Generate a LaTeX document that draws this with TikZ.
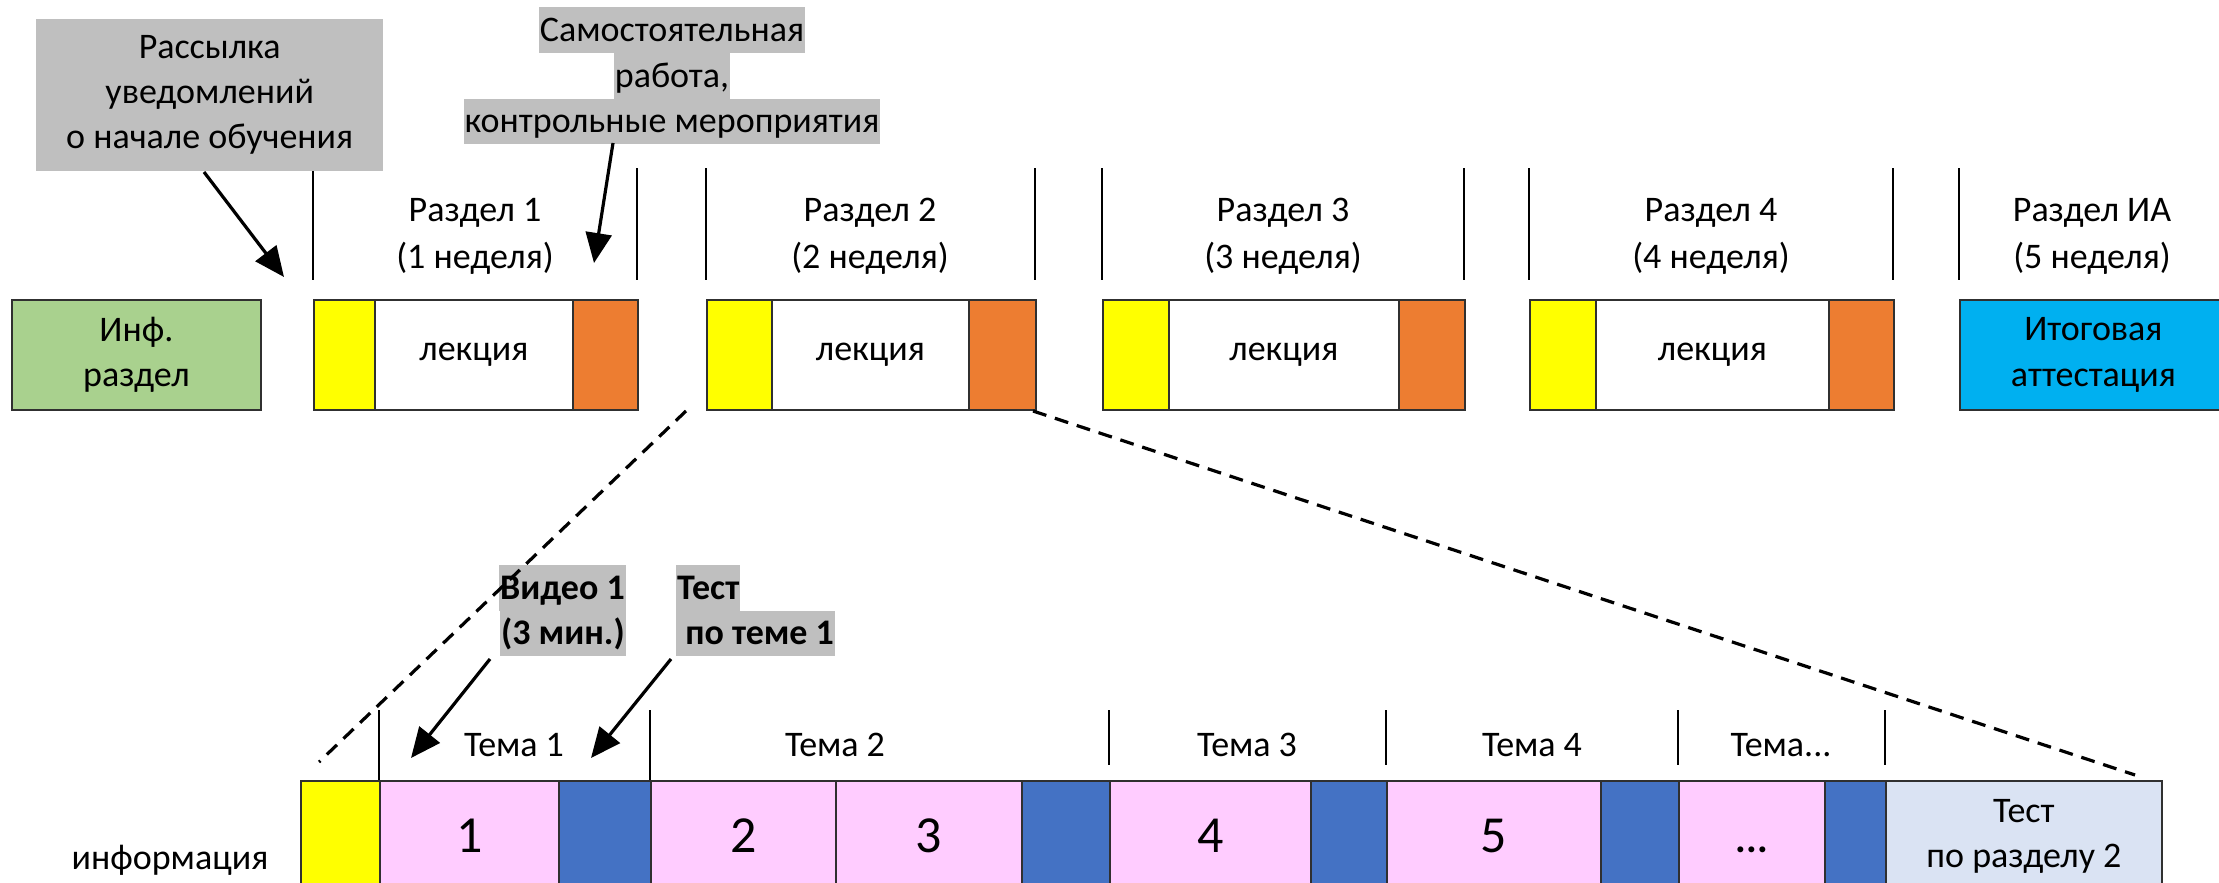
\documentclass[tikz,border=0pt]{standalone}
\usepackage{fontspec}
\setmainfont{Carlito}
\usetikzlibrary{arrows.meta,calc}

\definecolor{infgreen}{HTML}{A9D18E}
\definecolor{startyellow}{HTML}{FFFF00}
\definecolor{ctrlorange}{HTML}{ED7D31}
\definecolor{finalcyan}{HTML}{00B0F0}
\definecolor{quizblue}{HTML}{4472C4}
\definecolor{videopink}{HTML}{FFCCFF}
\definecolor{testblue}{HTML}{DAE3F3}
\definecolor{hlgray}{HTML}{BFBFBF}
\definecolor{edge}{HTML}{303030}

\begin{document}
\begin{tikzpicture}[x=1pt,y=-1pt,
  cell/.style={draw=edge, line width=1.8pt, anchor=north west, inner sep=0pt,
    minimum height=110pt, align=center, font=\fontsize{36}{45}\selectfont},
  bignum/.style={font=\fontsize{52}{60}\selectfont},
  caption/.style={align=center, inner sep=0pt, font=\fontsize{36}{47}\selectfont},
  tick/.style={line width=1.6pt, black},
  ptr/.style={line width=3.2pt, -{Triangle[length=30pt,width=26pt]}},
  zoomline/.style={line width=3.2pt, dash pattern=on 14pt off 9pt},
  hl/.style={fill=hlgray, inner xsep=1pt, inner ysep=0pt, text height=34pt,
    text depth=11.5pt, font=\fontsize{36}{45}\selectfont},
  hlb/.style={hl, font=\fontsize{36}{45}\selectfont\bfseries}
]
\useasboundingbox (0,0) rectangle (2219,883);
\clip (0,0) rectangle (2219,883);

% ---------- top row: course sections ----------
\node[cell, fill=infgreen, minimum width=249pt] (inf) at (11,299) {Инф.\\раздел};

\node[cell, fill=startyellow, minimum width=61pt]  (s1y) at (313,299) {};
\node[cell, fill=white,       minimum width=198pt] (s1l) at (374,299) {лекция};
\node[cell, fill=ctrlorange,  minimum width=65pt]  (s1o) at (572,299) {};

\node[cell, fill=startyellow, minimum width=65pt]  (s2y) at (706,299) {};
\node[cell, fill=white,       minimum width=197pt] (s2l) at (771,299) {лекция};
\node[cell, fill=ctrlorange,  minimum width=67pt]  (s2o) at (968,299) {};

\node[cell, fill=startyellow, minimum width=66pt]  (s3y) at (1102,299) {};
\node[cell, fill=white,       minimum width=230pt] (s3l) at (1168,299) {лекция};
\node[cell, fill=ctrlorange,  minimum width=66pt]  (s3o) at (1398,299) {};

\node[cell, fill=startyellow, minimum width=66pt]  (s4y) at (1529,299) {};
\node[cell, fill=white,       minimum width=233pt] (s4l) at (1595,299) {лекция};
\node[cell, fill=ctrlorange,  minimum width=65pt]  (s4o) at (1828,299) {};

\node[cell, fill=finalcyan, minimum width=267pt] (ia) at (1959,299) {Итоговая\\аттестация};

% section boundaries
\foreach \xx in {313,637,706,1035,1102,1464,1529,1893,1959}
  \draw[tick] (\xx,168) -- (\xx,280);

\node[caption] (h1) at (475,236.5)  {Раздел 1\\(1 неделя)};
\node[caption] (h2) at (870,236.5)  {Раздел 2\\(2 неделя)};
\node[caption] (h3) at (1283,236.5) {Раздел 3\\(3 неделя)};
\node[caption] (h4) at (1711,236.5) {Раздел 4\\(4 неделя)};
\node[caption] (h5) at (2092,236.5) {Раздел ИА\\(5 неделя)};

% ---------- callouts above the top row ----------
\node[fill=hlgray, anchor=north west, inner sep=0pt, minimum width=347pt,
      minimum height=152pt, align=center, font=\fontsize{36}{45}\selectfont]
      (mail) at (36,19) {Рассылка\\уведомлений\\о начале обучения};

\node[hl, anchor=north] (sw1) at (672,7.3)  {Самостоятельная};
\node[hl, anchor=north] (sw2) at (672,52.8) {работа,};
\node[hl, anchor=north] (sw3) at (672,98.3) {контрольные мероприятия};

\coordinate (a1s) at (204,172);
\coordinate (a1e) at (284,277);
\coordinate (a2s) at (613,143);
\coordinate (a2e) at (594,263);
\draw[ptr] (a1s) -- (a1e);
\draw[ptr] (a2s) -- (a2e);

% ---------- bottom row: topics of section 2 ----------
\node[cell, fill=startyellow, minimum width=79pt]  (by) at (300,780) {};
\node[cell, fill=videopink,   minimum width=179pt, bignum] (v1) at (379,780) {1};
\node[cell, fill=quizblue,    minimum width=92pt]  (q1) at (558,780) {};
\node[cell, fill=videopink,   minimum width=185pt, bignum] (v2) at (650,780) {2};
\node[cell, fill=videopink,   minimum width=186pt, bignum] (v3) at (835,780) {3};
\node[cell, fill=quizblue,    minimum width=88pt]  (q2) at (1021,780) {};
\node[cell, fill=videopink,   minimum width=201pt, bignum] (v4) at (1109,780) {4};
\node[cell, fill=quizblue,    minimum width=76pt]  (q3) at (1310,780) {};
\node[cell, fill=videopink,   minimum width=214pt, bignum] (v5) at (1386,780) {5};
\node[cell, fill=quizblue,    minimum width=78pt]  (q4) at (1600,780) {};
\node[cell, fill=videopink,   minimum width=146pt, bignum] (v6) at (1678,780)
  {\vphantom{1}{\fontsize{40}{48}\selectfont\textbf{...}}};
\node[cell, fill=quizblue,    minimum width=61pt]  (q5) at (1824,780) {};
\node[cell, fill=testblue,    minimum width=276pt] (fin) at (1885,780) {Тест\\по разделу 2};

\draw[tick] (379,710) -- (379,780);
\draw[tick] (650,710) -- (650,780);
\foreach \xx in {1109,1386,1678,1885}
  \draw[tick] (\xx,710) -- (\xx,765);

\node[caption] (t1) at (514,745)  {Тема 1};
\node[caption] (t2) at (835,745)  {Тема 2};
\node[caption] (t3) at (1247,745) {Тема 3};
\node[caption] (t4) at (1532,745) {Тема 4};
\node[caption] (t5) at (1781,745) {Тема...};

\node[caption] (info) at (170,860) {информация};

% callouts above the bottom row
\node[hlb, anchor=north east] (vid1) at (626,565)   {Видео 1};
\node[hlb, anchor=north east] (vid2) at (626,610.5) {(3 мин.)};
\node[hlb, anchor=north west] (tst1) at (676,565)   {Тест};
\node[hlb, anchor=north west] (tst2) at (676,610.5) {\ по теме 1};

\coordinate (a3s) at (490,659);
\coordinate (a3e) at (411,758);
\coordinate (a4s) at (671,659);
\coordinate (a4e) at (591,758);
\draw[ptr] (a3s) -- (a3e);
\draw[ptr] (a4s) -- (a4e);

% ---------- zoom lines from section 2 to its topics ----------
\coordinate (z1s) at (686,411);
\coordinate (z1e) at (319,762);
\coordinate (z2s) at (1033,411);
\coordinate (z2e) at (2135,775);
\draw[zoomline] (z1s) -- (z1e);
\draw[zoomline] (z2s) -- (z2e);
\end{tikzpicture}
\end{document}
